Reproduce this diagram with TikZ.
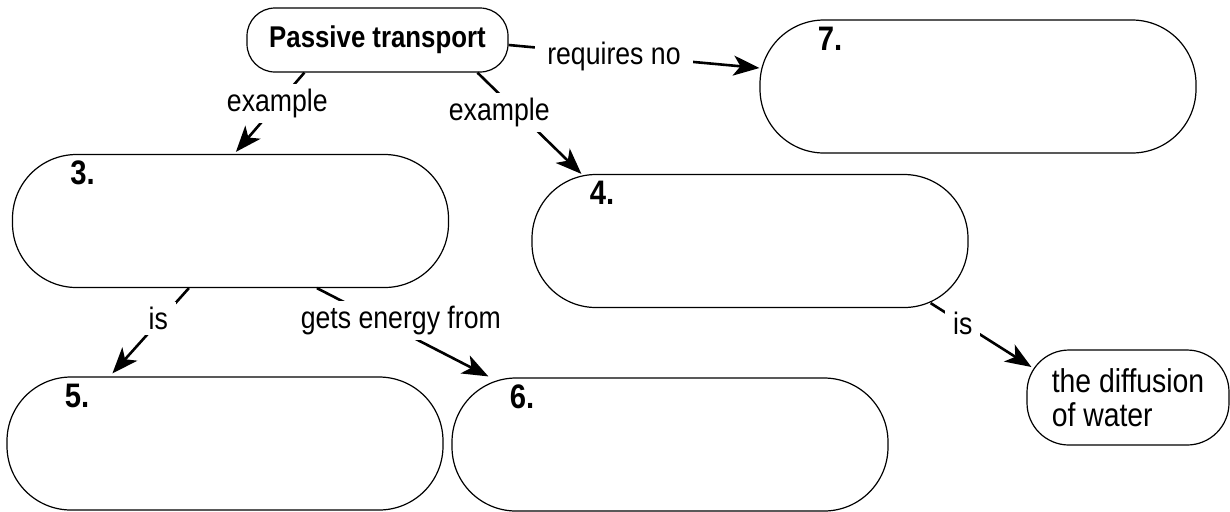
\documentclass[tikz,border=0pt]{standalone}
\usepackage{fontspec}
\setmainfont{Liberation Sans}[FakeStretch=0.86]
\usetikzlibrary{arrows.meta, calc}

\tikzstyle{arrow} = [line width=1.3pt, -{Stealth[length=13pt, width=10pt, inset=3.5pt]}]
\tikzstyle{answer} = [rectangle, rounded corners=32pt, draw=black, line width=0.6pt, minimum width=218pt, minimum height=66.5pt, inner sep=0pt]
\tikzstyle{topic} = [rectangle, rounded corners=14pt, draw=black, line width=0.6pt, minimum width=130.5pt, minimum height=32pt, font=\bfseries\fontsize{15}{17}\selectfont]
\tikzstyle{given} = [rectangle, rounded corners=21pt, draw=black, line width=0.6pt, minimum width=101pt, minimum height=47.5pt, align=left, font=\fontsize{16.5}{17}\selectfont]
\tikzstyle{linkword} = [fill=white, inner xsep=4pt, inner ysep=2.5pt, font=\fontsize{15.5}{17}\selectfont]
\tikzset{
	num/.style = {anchor=base west, inner sep=0pt, font=\bfseries\fontsize{17}{18}\selectfont}
}

\begin{document}
\begin{tikzpicture}[x=0.5pt, y=-0.5pt]
\useasboundingbox (0,0) rectangle (1230,511);
%----------------------------------------------------------------------------
% Boxes of the concept map
\node (passive) [topic] at (377.5,40) {Passive transport};

\node (box7) [answer] at (978,86.5) {};
\node (box3) [answer] at (230.5,221) {};
\node (box4) [answer] at (750,241) {};
\node (box5) [answer] at (225,443.5) {};
\node (box6) [answer] at (670,444.5) {};

\node (water) [given] at (1128,397.5) {the diffusion\\of water};

%----------------------------------------------------------------------------
% Numbers of the blanks
\node (num3) [num] at ($(box3.north west)+(58,31)$) {3.};
\node (num4) [num] at ($(box4.north west)+(58,31)$) {4.};
\node (num5) [num] at ($(box5.north west)+(58,31)$) {5.};
\node (num6) [num] at ($(box6.north west)+(58,31)$) {6.};
\node (num7) [num] at ($(box7.north west)+(58,31)$) {7.};

%----------------------------------------------------------------------------
% Links
\draw [arrow] ($(passive.south west)+(58,0)$) -- node[linkword, pos=0.395] {example} ($(box3.north west)+(224,-2)$);
\draw [arrow] ($(passive.south west)+(231,0)$) -- node[linkword, pos=0.393, xshift=-9.5pt] {example} ($(box4.north west)+(50,0)$);
\draw [arrow] ($(passive.east)+(0,5)$) -- node[linkword, pos=0.42, yshift=-1pt, inner xsep=6pt] {requires no} ($(box7.west)+(0,-18.5)$);

\draw [arrow] ($(box3.south west)+(177,0)$) -- node[linkword, pos=0.36, xshift=-1.5pt] {is} ($(box5.north west)+(106,-3)$);
\draw [arrow] ($(box3.south west)+(305,0)$) -- node[linkword, pos=0.364, xshift=10.75pt] {gets energy from} ($(box6.north west)+(37,-1)$);

\draw [arrow] ($(box4.south east)+(-38,-5)$) -- node[linkword, pos=0.32] {is} ($(water.west)+(5,-30.5)$);

\end{tikzpicture}
\end{document}
